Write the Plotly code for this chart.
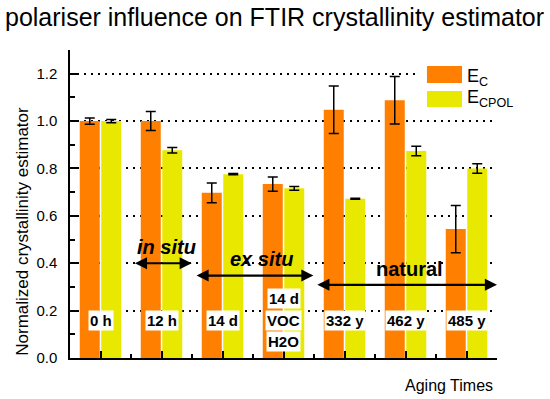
import plotly.graph_objects as go

# ---- data ----
categories = ["0 h", "12 h", "14 d", "14 d<br>VOC<br>H2O", "332 y", "462 y", "485 y"]
x_pos = [0, 1, 2, 3, 4, 5, 6]
ec_values = [1.00, 1.00, 0.697, 0.734, 1.048, 1.088, 0.544]
ec_errors = [0.013, 0.040, 0.042, 0.030, 0.100, 0.100, 0.100]
ecpol_values = [1.00, 0.877, 0.776, 0.716, 0.672, 0.874, 0.800]
ecpol_errors = [0.007, 0.012, 0.003, 0.008, 0.002, 0.020, 0.020]
y_ticks = [0.0, 0.2, 0.4, 0.6, 0.8, 1.0, 1.2]

# group annotations: (label, italic, text x, text y, arrow start, arrow end, arrow y)
groups = [
    ("in situ", True, 1.085, 0.47, 0.54, 1.495, 0.40),
    ("ex situ", True, 2.64, 0.417, 1.55, 3.49, 0.348),
    ("natural", False, 5.07, 0.375, 3.53, 6.5, 0.309),
]

ORANGE = "#FF7F00"
YELLOW = "#E8E800"
FONT = "Liberation Sans, Arial, sans-serif"

fig = go.Figure()
fig.add_trace(go.Bar(
    x=x_pos, y=ec_values, name="E<sub>C</sub>", marker=dict(color=ORANGE, line=dict(width=0)),
    error_y=dict(type="data", array=ec_errors, color="black", thickness=1.5, width=5),
))
fig.add_trace(go.Bar(
    x=x_pos, y=ecpol_values, name="E<sub>CPOL</sub>", marker=dict(color=YELLOW, line=dict(width=0)),
    error_y=dict(type="data", array=ecpol_errors, color="black", thickness=1.5, width=5),
))

annotations = []
# category labels in white boxes
for xi, cat in zip(x_pos, categories):
    parts = cat.split("<br>")
    ys = [0.157] if len(parts) == 1 else [0.253, 0.159, 0.068]
    for p, yy in zip(parts, ys):
        annotations.append(dict(x=xi, y=yy, xref="x", yref="y", text="<b>%s</b>" % p,
                                xanchor="center", yanchor="middle",
                                showarrow=False, bgcolor="white", borderpad=1,
                                font=dict(size=15, color="black", family=FONT)))

for label, italic, tx, ty, a0, a1, ay in groups:
    txt = "<b><i>%s</i></b>" % label if italic else "<b>%s</b>" % label
    annotations.append(dict(x=tx, y=ty, xref="x", yref="y", text=txt, showarrow=False,
                            xanchor="center", yanchor="middle",
                            font=dict(size=20, color="black", family=FONT)))
    annotations.append(dict(x=a1, y=ay, ax=a0, ay=ay, xref="x", yref="y", axref="x", ayref="y",
                            text="", showarrow=True, arrowside="end+start", arrowhead=2,
                            arrowsize=1.1, arrowwidth=2.2, arrowcolor="black",
                            standoff=0, startstandoff=0))

# y title, x title
annotations.append(dict(x=-0.11, y=0.41, xref="paper", yref="paper", text="Normalized crystallinity estimator",
                        xanchor="center", yanchor="middle",
                        textangle=-90, showarrow=False, font=dict(size=17, color="black", family=FONT)))
annotations.append(dict(x=0.8876, y=-0.088, xref="paper", yref="paper", text="Aging Times",
                        xanchor="center", yanchor="middle",
                        showarrow=False, font=dict(size=16, color="black", family=FONT)))

# legend (drawn manually)
shapes = [
    dict(type="rect", xref="paper", yref="paper", x0=0.818, x1=1.05, y0=0.80, y1=0.985,
         fillcolor="white", line=dict(width=0), layer="above"),
    dict(type="rect", xref="paper", yref="paper", x0=0.836, x1=0.918, y0=0.893, y1=0.948,
         fillcolor=ORANGE, line=dict(width=0), layer="above"),
    dict(type="rect", xref="paper", yref="paper", x0=0.836, x1=0.918, y0=0.815, y1=0.867,
         fillcolor=YELLOW, line=dict(width=0), layer="above"),
]
annotations.append(dict(x=0.926, y=0.912, xref="paper", yref="paper", text="E<sub>C</sub>",
                        xanchor="left", yanchor="middle",
                        showarrow=False, font=dict(size=18, color="black", family=FONT)))
annotations.append(dict(x=0.926, y=0.842, xref="paper", yref="paper", text="E<sub>CPOL</sub>",
                        xanchor="left", yanchor="middle",
                        showarrow=False, font=dict(size=18, color="black", family=FONT)))

fig.update_layout(
    width=550, height=399,
    margin=dict(l=70, r=53, t=50, b=41),
    paper_bgcolor="white", plot_bgcolor="white",
    barmode="group", bargap=0.295, bargroupgap=0.07,
    showlegend=False,
    title=dict(text="polariser influence on FTIR crystallinity estimator", x=5/550, xanchor="left",
               xref="container", y=1 - 17/399, yanchor="middle", yref="container",
               font=dict(size=25, color="black", family=FONT)),
    font=dict(family=FONT, color="black"),
    annotations=annotations,
    shapes=shapes,
)
fig.update_xaxes(
    type="linear", range=[-0.5, 6.5], showgrid=False, zeroline=False,
    showline=True, linecolor="black", linewidth=1.5,
    tickmode="array", tickvals=x_pos, showticklabels=False,
    ticks="inside", ticklen=7, tickwidth=1.5, tickcolor="black",
    minor=dict(tickmode="linear", tick0=0.5, dtick=1, ticks="inside", ticklen=4, tickwidth=1.5, tickcolor="black"),
)
fig.update_yaxes(
    range=[0, 1.3], zeroline=False,
    showline=True, linecolor="black", linewidth=1.5,
    tickmode="array", tickvals=y_ticks, ticktext=["%.1f" % v for v in y_ticks],
    ticks="inside", ticklen=9, tickwidth=1.5, tickcolor="black",
    tickfont=dict(size=15, color="black", family=FONT), ticklabelstandoff=8,
    showgrid=True, gridcolor="black", griddash="2px,5px", gridwidth=1.5,
    minor=dict(tickmode="linear", tick0=0, dtick=0.1, ticks="inside", ticklen=5, tickwidth=1.5, tickcolor="black", showgrid=False),
)

fig.write_html("out.html", config={"displayModeBar": False},
               post_script="document.body.style.margin='0';")
